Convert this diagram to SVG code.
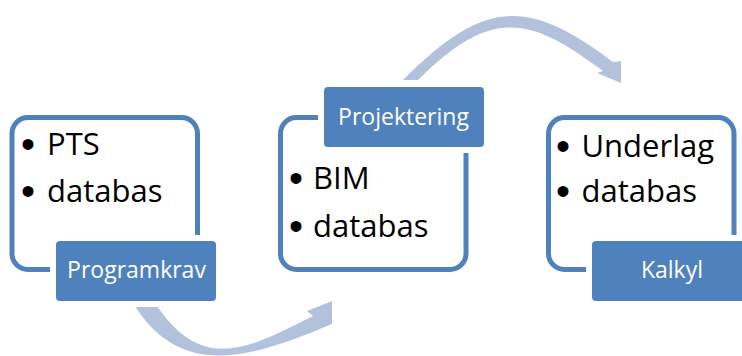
<svg xmlns="http://www.w3.org/2000/svg" width="742" height="356" viewBox="0 0 742 356">
  <style>
    .frame { fill: #ffffff; stroke: #4f81bd; stroke-width: 5; }
    .label { fill: #4f81bd; stroke: #ffffff; stroke-width: 12; paint-order: stroke; }
    .ltext { font-family: "Open Sans", "Liberation Sans", sans-serif; font-size: 23px; fill: #ffffff; text-anchor: middle; }
    .btext { font-family: "Open Sans", "Liberation Sans", sans-serif; font-size: 31px; fill: #000000; }
    .bul { font-family: "Liberation Sans", sans-serif; font-size: 40px; }
    .arrow { fill: #b3c2dc; }
  </style>
  <rect width="742" height="356" fill="#ffffff"/>
  <g id="connectors">
    <path class="arrow" d="M133,303 C180,380 249,359 332,324 L332,301 L307,311 L313,316 C246,349.75 201.8,373.6 155,303 Z"/>
    <path class="arrow" d="M403,80 C485,-2 528,-2 613,62 L621,61 L621,83 L597,73 L603,71 C531,17 492.2,5.8 418,80 Z"/>
  </g>
  <g id="node-programkrav">
    <rect class="frame" x="12" y="117.5" width="185.5" height="152" rx="16"/>
    <text class="btext"><tspan class="bul" x="21" y="158">•</tspan><tspan x="47" y="155">PTS</tspan></text>
    <text class="btext"><tspan class="bul" x="21" y="205">•</tspan><tspan x="47" y="202">databas</tspan></text>
    <rect class="label" x="56" y="241" width="160" height="60" rx="4"/>
    <text class="ltext" x="136.5" y="278">Programkrav</text>
  </g>
  <g id="node-projektering">
    <rect class="frame" x="280.5" y="117.5" width="185.5" height="152" rx="16"/>
    <text class="btext"><tspan class="bul" x="289" y="192">•</tspan><tspan x="313" y="189">BIM</tspan></text>
    <text class="btext"><tspan class="bul" x="289" y="240">•</tspan><tspan x="313" y="237">databas</tspan></text>
    <rect class="label" x="324" y="87" width="160" height="60" rx="4"/>
    <text class="ltext" x="403.5" y="125">Projektering</text>
  </g>
  <g id="node-kalkyl">
    <rect class="frame" x="548.5" y="117.5" width="185.5" height="152" rx="16"/>
    <text class="btext"><tspan class="bul" x="556" y="160">•</tspan><tspan x="581.5" y="157">Underlag</tspan></text>
    <text class="btext"><tspan class="bul" x="556" y="205">•</tspan><tspan x="581.5" y="202">databas</tspan></text>
    <rect class="label" x="592" y="241" width="160" height="60" rx="4"/>
    <text class="ltext" x="672" y="278">Kalkyl</text>
  </g>
</svg>
